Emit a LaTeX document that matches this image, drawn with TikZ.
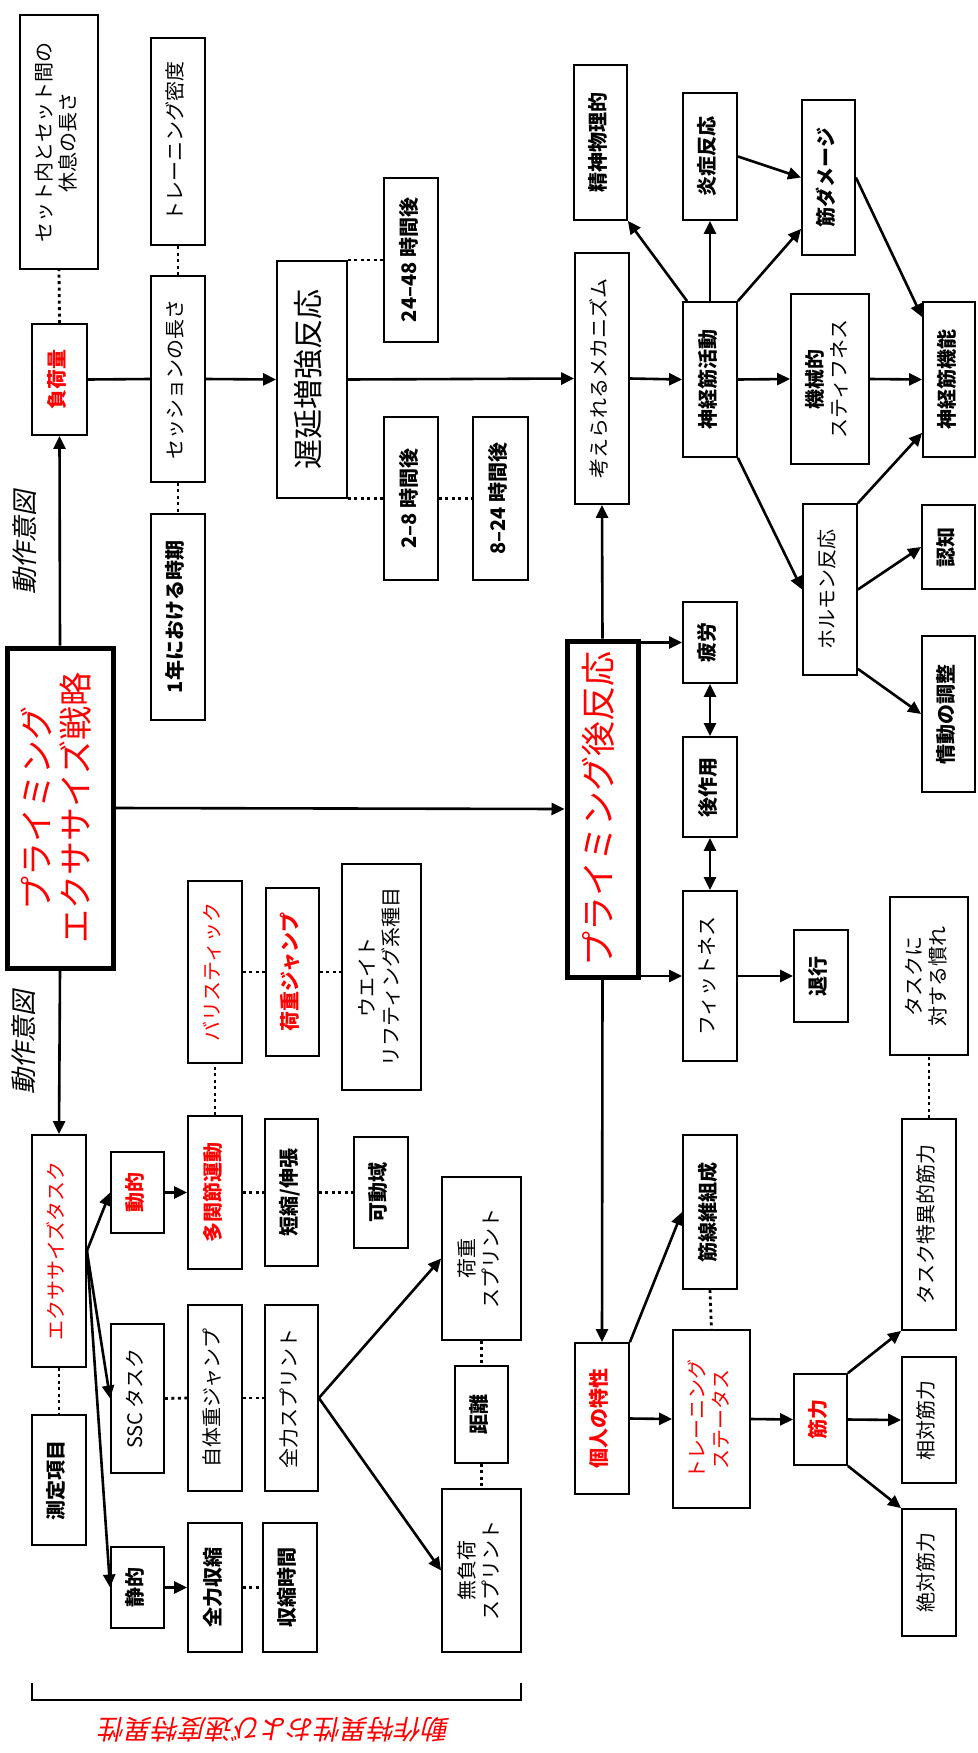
\documentclass[tikz,border=0pt]{standalone}
\usepackage{fontspec}
\usetikzlibrary{arrows.meta,calc}
\newfontfamily\jp{Noto Sans CJK JP}
\newfontfamily\jpsl[FakeSlant=0.2]{Noto Sans CJK JP}

% box given by its corners (x1,y1)-(x2,y2), text turned to read upwards
\newcommand{\mybox}[7][]{%
  \node[box,#1,minimum width={#5-#3},minimum height={#6-#4}] (#2)
    at ({(#3+#5)/2},{(#4+#6)/2})
    {\rotatebox{90}{\begin{tabular}{@{}c@{}}#7\end{tabular}}};}

\begin{document}
\begin{tikzpicture}[x=1pt,y=-1pt,
  box/.style={draw,line width=1.8pt,fill=white,inner sep=0pt,
    font=\jp\fontsize{20}{24}\selectfont},
  heavy/.style={font=\jp\bfseries\fontsize{20}{24}\selectfont},
  redt/.style={text=red},
  mainbox/.style={line width=5pt},
  big30/.style={font=\jp\fontsize{30}{34}\selectfont},
  big34/.style={font=\jp\fontsize{34}{35}\selectfont},
  big35/.style={font=\jp\fontsize{35}{38}\selectfont},
  arr/.style={line width=2.6pt,-{Triangle[length=13pt,width=12pt]}},
  dbl/.style={line width=2.6pt,{Triangle[length=13pt,width=12pt]}-{Triangle[length=13pt,width=12pt]}},
  ln/.style={line width=2.6pt},
  dots/.style={line width=2.8pt,dash pattern=on 3pt off 3.5pt},
  lbl/.style={font=\jpsl\fontsize{26}{28}\selectfont}]

\fill[white] (0,0) rectangle (977,1753);
\useasboundingbox (0,0) rectangle (977,1753);

% training-load side
\mybox{rest}{20}{15}{98}{269}{セット内とセット間の\\休息の長さ}
\mybox{dens}{151}{38}{205}{245}{トレーニング密度}
\mybox[heavy,redt]{load}{32}{324}{87}{435}{負荷量}
\mybox{sess}{151}{276}{205}{482}{セッションの長さ}
\mybox[heavy]{year}{151}{514}{205}{720}{1年における時期}
\mybox[big30]{delay}{277}{261}{347}{498}{遅延増強反応}
\mybox[heavy]{h2448}{384}{178}{438}{342}{24–48 時間後}
\mybox[heavy]{h28}{384}{417}{438}{580}{2–8 時間後}
\mybox[heavy]{h824}{473}{417}{528}{580}{8–24 時間後}

% mechanisms
\mybox{mech}{575}{253}{629}{504}{考えられるメカニズム}
\mybox[heavy]{psy}{574}{65}{627}{220}{精神物理的}
\mybox[heavy]{nma}{683}{302}{737}{457}{神経筋活動}
\mybox[heavy]{infl}{683}{93}{737}{220}{炎症反応}
\mybox[heavy]{dmg}{802}{100}{855}{255}{筋ダメージ}
\mybox{stiff}{791}{294}{869}{464}{\bfseries 機械的\\スティフネス}
\mybox[heavy]{nmf}{923}{302}{975}{457}{神経筋機能}
\mybox{horm}{803}{504}{857}{675}{ホルモン反応}
\mybox[heavy]{cog}{922}{505}{975}{589}{認知}
\mybox[heavy]{emo}{922}{636}{975}{792}{情動の調整}

% response outcomes
\mybox[heavy]{fat}{683}{602}{737}{683}{疲労}
\mybox[heavy]{post}{683}{737}{737}{837}{後作用}
\mybox{fit}{683}{891}{737}{1061}{フィットネス}
\mybox[heavy]{regr}{794}{930}{848}{1022}{退行}

% central boxes
\mybox[mainbox,redt,big35]{resp}{567}{641}{638}{977}{プライミング後反応}
\mybox[mainbox,redt,big34]{strat}{7}{648}{113}{968}{プライミング\\エクササイズ戦略}

% exercise tasks
\mybox[redt]{task}{32}{1135}{86}{1367}{エクササイズタスク}
\mybox[heavy]{meas}{32}{1415}{86}{1545}{測定項目}
\mybox[heavy,redt]{dyn}{111}{1152}{164}{1233}{動的}
\mybox[heavy,redt]{multi}{188}{1116}{242}{1269}{多関節運動}
\mybox[redt]{ball}{188}{881}{242}{1063}{バリスティック}
\mybox[heavy,redt]{wjump}{266}{888}{319}{1056}{荷重ジャンプ}
\mybox{wlift}{342}{864}{421}{1090}{ウエイト\\リフティング系種目}
\mybox[heavy]{sse}{265}{1119}{318}{1266}{短縮/伸張}
\mybox[heavy]{rom}{354}{1137}{408}{1248}{可動域}
\mybox{ssc}{111}{1324}{164}{1473}{SSC タスク}
\mybox{bwj}{188}{1305}{242}{1491}{自体重ジャンプ}
\mybox{sprint}{265}{1305}{318}{1491}{全力スプリント}
\mybox{lspr}{442}{1177}{521}{1340}{荷重\\スプリント}
\mybox[heavy]{dist}{455}{1366}{508}{1463}{距離}
\mybox{uspr}{442}{1489}{521}{1652}{無負荷\\スプリント}
\mybox[heavy]{stat}{111}{1547}{164}{1628}{静的}
\mybox[heavy]{maxc}{188}{1523}{242}{1652}{全力収縮}
\mybox[heavy]{ctime}{263}{1523}{317}{1652}{収縮時間}

% individual characteristics
\mybox[heavy,redt]{indiv}{575}{1343}{629}{1494}{個人の特性}
\mybox[heavy]{fibre}{683}{1135}{737}{1289}{筋線維組成}
\mybox[redt]{tstat}{673}{1330}{750}{1508}{トレーニング\\ステータス}
\mybox[heavy,redt]{strn}{794}{1374}{847}{1465}{筋力}
\mybox{tsk}{902}{1119}{956}{1330}{タスク特異的筋力}
\mybox{habit}{890}{897}{968}{1055}{タスクに\\対する慣れ}
\mybox{rel}{902}{1357}{956}{1483}{相対筋力}
\mybox{abso}{902}{1509}{956}{1636}{絶対筋力}

% labels
\node[lbl,inner sep=0pt] (intA) at (25,542) {\rotatebox{90}{動作意図}};
\node[lbl,inner sep=0pt] (intB) at (24,1042) {\rotatebox{90}{動作意図}};
\node[text=red,font=\jpsl\fontsize{27}{30}\selectfont,inner sep=0pt] (spec) at (275,1730)
  {\rotatebox{180}{動作特異性および速度特異性}};
\draw[line width=2pt] (32,1683) -- (32,1700) -- (521,1700) -- (521,1683);

% arrows
\draw[arr] (strat.north) -- (load.south);
\draw[arr] (strat.south) -- (task.north);
\draw[arr] (strat.east) -- (resp.west);
\draw[ln] (load.east) -- (sess.west);
\draw[arr] (sess.east) -- (delay.west);
\draw[arr] (delay.east) -- (mech.west);
\draw[arr] (mech.east) -- (nma.west);
\draw[arr] (nma.east) -- (stiff.west);
\draw[arr] (stiff.east) -- (nmf.west);
\draw[arr] (nma.north) -- (infl.south);
\draw[arr] ([xshift=5pt]nma.north west) -- (psy.south east);
\draw[arr] (nma.north east) -- ([yshift=27pt]dmg.south west);
\draw[arr] (infl.east) -- (dmg.west);
\draw[arr] (dmg.east) -- ([yshift=-16pt]nmf.north west);
\draw[arr] (nma.south east) -- (horm.west);
\draw[arr] (horm.north east) -- ([yshift=25pt]nmf.south west);
\draw[arr] (horm.east) -- (cog.west);
\draw[arr] ([yshift=7pt]horm.south east) -- (emo.west);
\draw[arr] (resp.north) -- (mech.south);
\draw[arr] (resp.east |- fat.west) -- (fat.west);
\draw[arr] (resp.east |- fit.west) -- (fit.west);
\draw[dbl] (fat.south) -- (post.north);
\draw[dbl] (post.south) -- (fit.north);
\draw[arr] (fit.east) -- (regr.west);
\draw[arr] (resp.south) -- (indiv.north);
\draw[arr] (indiv.north east) -- (fibre.west);
\draw[arr] (indiv.east) -- (tstat.west);
\draw[arr] (tstat.east) -- (strn.west);
\draw[arr] (strn.north east) -- (tsk.south west);
\draw[arr] (strn.east) -- (rel.west);
\draw[arr] (strn.south east) -- (abso.north west);
\draw[arr] (task.east) -- (dyn.west);
\draw[arr] (task.east) -- (ssc.west);
\draw[arr] (task.east) -- (stat.west);
\draw[arr] (dyn.east) -- (multi.west);
\draw[arr] (stat.east) -- (maxc.west);
\draw[arr] (sprint.east) -- (lspr.west);
\draw[arr] (sprint.east) -- (uspr.west);

% dotted associations
\draw[dots] (load.north) -- (rest.south);
\draw[dots] (sess.north) -- (dens.south);
\draw[dots] (sess.south) -- (year.north);
\draw[dots] (h2448.west -| delay.east) -- (h2448.west);
\draw[dots] (h28.west -| delay.east) -- (h28.west);
\draw[dots] (h28.east) -- (h824.west);
\draw[dots] (task.south) -- (meas.north);
\draw[dots] (multi.north) -- (ball.south);
\draw[dots] (ball.east) -- (wjump.west);
\draw[dots] (wjump.east) -- (wjump.east -| wlift.west);
\draw[dots] (multi.east) -- (sse.west);
\draw[dots] (sse.east) -- (rom.west);
\draw[dots] (ssc.east) -- (bwj.west);
\draw[dots] (bwj.east) -- (sprint.west);
\draw[dots] (lspr.south) -- (dist.north);
\draw[dots] (dist.south) -- (uspr.north);
\draw[dots] (maxc.east) -- (ctime.west);
\draw[dots] (fibre.south) -- (tstat.north);
\draw[dots] (tsk.north) -- (habit.south);
\end{tikzpicture}
\end{document}
